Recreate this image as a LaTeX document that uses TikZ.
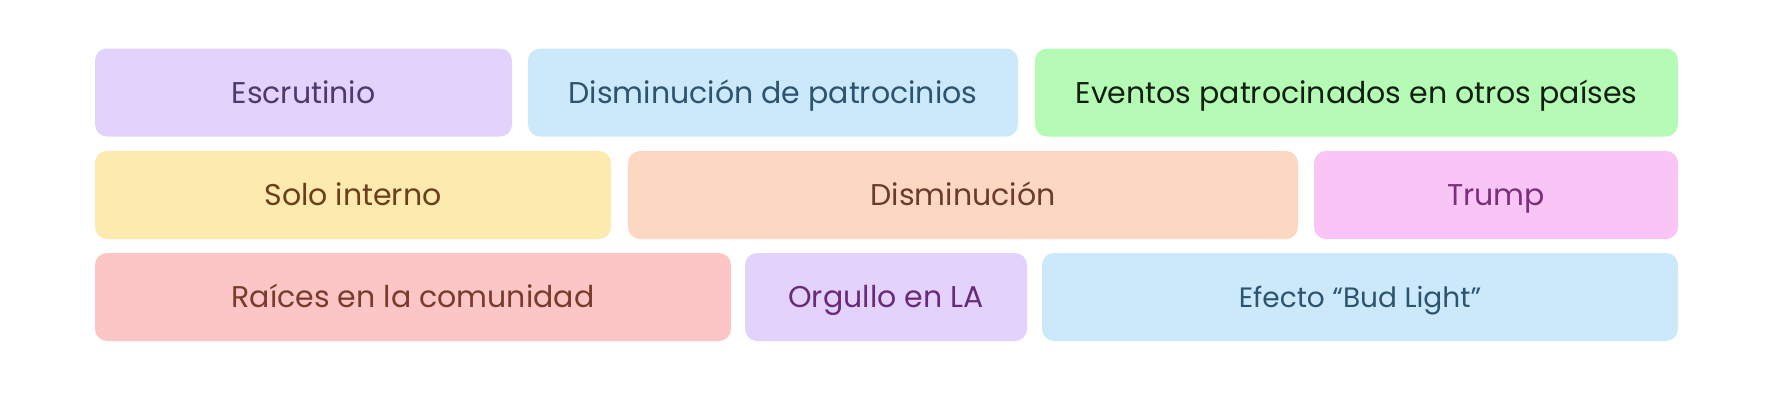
\documentclass[tikz,border=0pt]{standalone}
\usepackage{fontspec}
\setmainfont{Poppins}
\usetikzlibrary{positioning}

\definecolor{lavender}{HTML}{E3D3FC}
\definecolor{lavendertext}{HTML}{4E3A6E}
\definecolor{skyblue}{HTML}{CCE9FC}
\definecolor{skybluetext}{HTML}{2C5470}
\definecolor{mint}{HTML}{B5FAB5}
\definecolor{minttext}{HTML}{102010}
\definecolor{butter}{HTML}{FDEAAE}
\definecolor{buttertext}{HTML}{6B3F1A}
\definecolor{peach}{HTML}{FCD8C2}
\definecolor{peachtext}{HTML}{6B3B30}
\definecolor{orchid}{HTML}{F9C5F6}
\definecolor{orchidtext}{HTML}{7A2F7A}
\definecolor{rose}{HTML}{FDC6C6}
\definecolor{rosetext}{HTML}{7A3B2A}
\definecolor{plumtext}{HTML}{6A2A7A}

\begin{document}
\begin{tikzpicture}[x=0.5pt,y=-0.5pt,
	tag/.style={rounded corners=6pt, minimum height=44pt, inner sep=0pt,
		text height=10.5pt, text depth=0pt,
		font=\fontsize{15}{18}\selectfont}]
	\useasboundingbox (0,0) rectangle (1768,408);
	
	%row 1
	\node[tag, fill=lavender, text=lavendertext, minimum width=208.5pt] (escrutinio) at (303.5,92.5) {Escrutinio};
	\node[tag, fill=skyblue, text=skybluetext, minimum width=245pt] (patrocinios) at (773,92.5) {Disminución de patrocinios};
	\node[tag, fill=mint, text=minttext, minimum width=321.5pt] (eventos) at (1356.5,92.5) {Eventos patrocinados en otros países};
	
	%row 2
	\node[tag, fill=butter, text=buttertext, minimum width=258pt] (interno) at (353,195) {Solo interno};
	\node[tag, fill=peach, text=peachtext, minimum width=335pt] (disminucion) at (963,195) {Disminución};
	\node[tag, fill=orchid, text=orchidtext, minimum width=182pt] (trump) at (1496,195) {Trump};
	
	%row 3
	\node[tag, fill=rose, text=rosetext, minimum width=318pt] (raices) at (413,297) {Raíces en la comunidad};
	\node[tag, fill=lavender, text=plumtext, minimum width=141pt] (orgullo) at (886,297) {Orgullo en LA};
	\node[tag, fill=skyblue, text=skybluetext, minimum width=318pt, font=\fontsize{14}{17}\selectfont] (efecto) at (1360,297) {Efecto “Bud Light”};
\end{tikzpicture}
\end{document}
